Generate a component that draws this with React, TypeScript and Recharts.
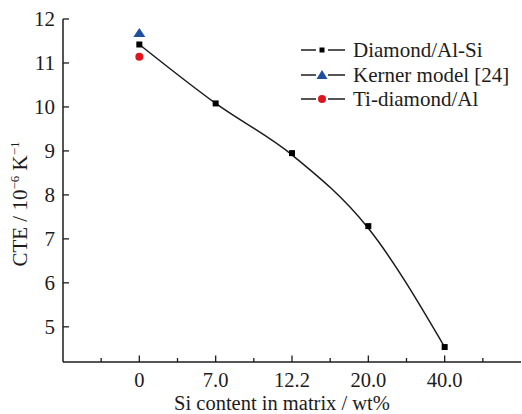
import { ComposedChart, Line, XAxis, YAxis } from 'recharts'

const siLabels = ['0', '7.0', '12.2', '20.0', '40.0']
const diamondAlSi = [11.42, 10.08, 8.95, 7.29, 4.54]
const fitCurve = [11.42, 10.08, 8.91, 7.24, 4.54]
const kernerModel = [11.68, null, null, null, null]
const tiDiamondAl = [11.14, null, null, null, null]
const yTicks = [5, 6, 7, 8, 9, 10, 11, 12]

const FONT = '"Liberation Serif", "Times New Roman", serif'
const INK = '#1c1c1c'
const BLUE = '#1f4fa0'
const RED = '#e0141e'

const data = siLabels.map((label, i) => ({
  pos: i + 1,
  label,
  diamond: diamondAlSi[i],
  fit: fitCurve[i],
  kerner: kernerModel[i],
  ti: tiDiamondAl[i],
}))

// majors at category positions, minors half way between
const xTicks = [0.5, ...siLabels.flatMap((_, i) => [i + 1, i + 1.5])]

const XTick = (props: any) => {
  const { x, y, payload } = props
  const v = payload.value
  const major = Number.isInteger(v)
  return (
    <g>
      <line x1={x} x2={x} y1={y} y2={y - (major ? 6.5 : 4)} stroke={INK} strokeWidth={1.3} />
      {major && (
        <text x={x} y={y + 25} textAnchor="middle" fontFamily={FONT} fontSize={20.5} fill={INK}>
          {siLabels[v - 1]}
        </text>
      )}
    </g>
  )
}

const YTick = (props: any) => {
  const { x, y, payload } = props
  return (
    <g>
      <line x1={x} x2={x + 6} y1={y} y2={y} stroke={INK} strokeWidth={1.3} />
      <text x={x - 8} y={y} dy="0.35em" textAnchor="end" fontFamily={FONT} fontSize={21} fill={INK}>
        {payload.value}
      </text>
    </g>
  )
}

const XTitle = () => (
  <text x={282} y={410} textAnchor="middle" fontFamily={FONT} fontSize={20.5} fill={INK}>
    Si content in matrix / wt%
  </text>
)

const YTitle = () => (
  <text
    x={20}
    y={204}
    transform="rotate(-90 20 204)"
    dy="0.35em"
    textAnchor="middle"
    fontFamily={FONT}
    fontSize={21}
    fill={INK}
  >
    CTE / 10
    <tspan fontSize={13} dy={-8}>−6</tspan>
    <tspan dy={8}> K</tspan>
    <tspan fontSize={13} dy={-8}>−1</tspan>
  </text>
)

const squareDot = (props: any) => {
  const { cx, cy, index, value } = props
  if (cx == null || cy == null || value == null) return <g key={`s${index}`} />
  return <rect key={`s${index}`} x={cx - 3} y={cy - 3} width={6} height={6} fill="#000" />
}

const triangleDot = (props: any) => {
  const { cx, cy, index, value } = props
  if (cx == null || cy == null || value == null) return <g key={`t${index}`} />
  return (
    <polygon
      key={`t${index}`}
      points={`${cx},${cy - 5} ${cx - 6},${cy + 4} ${cx + 6},${cy + 4}`}
      fill={BLUE}
    />
  )
}

const circleDot = (props: any) => {
  const { cx, cy, index, value } = props
  if (cx == null || cy == null || value == null) return <g key={`c${index}`} />
  return <circle key={`c${index}`} cx={cx} cy={cy} r={4} fill={RED} />
}

const legendItems = [
  { name: 'Diamond/Al-Si', marker: 'square' },
  { name: 'Kerner model [24]', marker: 'triangle' },
  { name: 'Ti-diamond/Al', marker: 'circle' },
]

const LegendIcon = ({ marker }: { marker: string }) => (
  <svg width={46} height={14} style={{ display: 'block' }}>
    <line x1={0} x2={15} y1={7} y2={7} stroke={INK} strokeWidth={1.5} />
    <line x1={27} x2={44} y1={7} y2={7} stroke={INK} strokeWidth={1.5} />
    {marker === 'square' && <rect x={18.5} y={4.5} width={5} height={5} fill="#000" />}
    {marker === 'triangle' && <polygon points="21,2 15.5,11 26.5,11" fill={BLUE} />}
    {marker === 'circle' && <circle cx={21} cy={7} r={4} fill={RED} />}
  </svg>
)

export default function App() {
  return (
    <div style={{ position: 'absolute', left: 0, top: 0, width: 522, height: 414, background: '#fff' }}>
      <ComposedChart
        width={522}
        height={414}
        data={data}
        margin={{ top: 19, right: 1, left: 0, bottom: 0 }}
      >
        <XAxis
          dataKey="pos"
          type="number"
          domain={[0, 6]}
          ticks={xTicks}
          interval={0}
          height={52}
          tickSize={0}
          tickMargin={0}
          tickLine={false}
          tick={<XTick />}
          axisLine={{ stroke: INK, strokeWidth: 1.5 }}
          label={<XTitle />}
        />
        <XAxis
          xAxisId="top"
          orientation="top"
          dataKey="pos"
          type="number"
          domain={[0, 6]}
          height={0}
          tick={false}
          tickLine={false}
          axisLine={{ stroke: INK, strokeWidth: 1.5 }}
        />
        <YAxis
          type="number"
          domain={[4.2, 12]}
          ticks={yTicks}
          interval={0}
          width={63}
          tickSize={0}
          tickMargin={0}
          tickLine={false}
          tick={<YTick />}
          axisLine={{ stroke: INK, strokeWidth: 1.5 }}
          label={<YTitle />}
        />
        <YAxis
          yAxisId="right"
          orientation="right"
          type="number"
          domain={[4.2, 12]}
          width={0}
          tick={false}
          tickLine={false}
          axisLine={{ stroke: INK, strokeWidth: 1.5 }}
        />
        <Line
          dataKey="fit"
          type="monotone"
          stroke={INK}
          strokeWidth={1.5}
          dot={false}
          activeDot={false}
          isAnimationActive={false}
        />
        <Line dataKey="diamond" stroke="none" dot={squareDot} activeDot={false} isAnimationActive={false} />
        <Line dataKey="kerner" stroke="none" dot={triangleDot} activeDot={false} isAnimationActive={false} />
        <Line dataKey="ti" stroke="none" dot={circleDot} activeDot={false} isAnimationActive={false} />
      </ComposedChart>
      <div style={{ position: 'absolute', left: 301, top: 38, fontFamily: FONT, fontSize: 21, color: INK }}>
        {legendItems.map((item) => (
          <div key={item.name} style={{ display: 'flex', alignItems: 'center', height: 24.5 }}>
            <LegendIcon marker={item.marker} />
            <span style={{ marginLeft: 6, lineHeight: '24px' }}>{item.name}</span>
          </div>
        ))}
      </div>
    </div>
  )
}
